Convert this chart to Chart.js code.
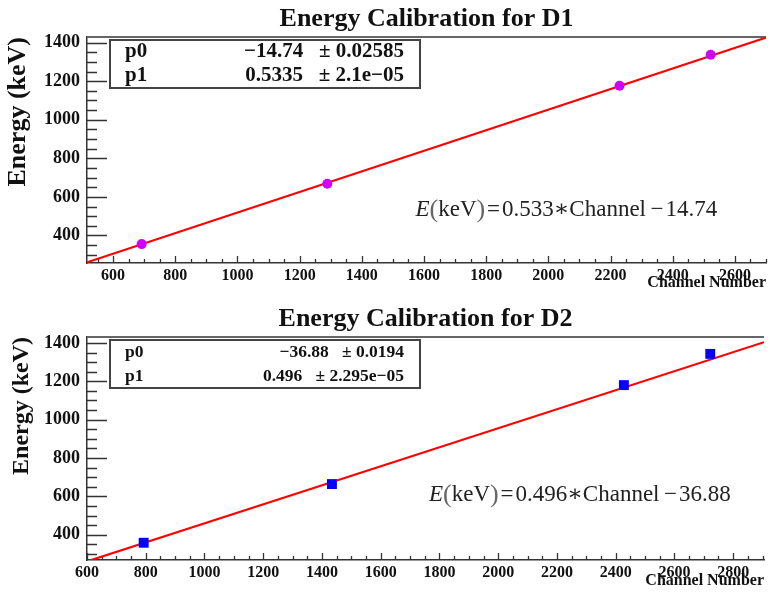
<!DOCTYPE html>
<html>
<head>
<meta charset="utf-8">
<script src="https://cdn.jsdelivr.net/npm/chart.js@4.4.1/dist/chart.umd.min.js"></script>
<style>
  html, body { margin: 0; padding: 0; background: #ffffff; }
  #wrap { position: relative; width: 771px; height: 593px; overflow: hidden; }
  canvas { position: absolute; left: 0; }
</style>
</head>
<body>
<div id="wrap">
  <canvas id="c1" width="771" height="296" style="top:0px"></canvas>
  <canvas id="c2" width="771" height="297" style="top:296px"></canvas>
</div>
<script>
// ---- Detector D1: calibration peaks (channel, energy in keV) ----
const channelsD1 = [692, 1289, 2229, 2522];
const energiesD1 = [355, 668, 1176, 1337];
const fitD1 = { p0: -14.74, p1: 0.5335 };
const statsD1 = [['p0', '\u221214.74', '0.02585'], ['p1', '0.5335', '2.1e\u221205']];
const eqD1 = ['0.533', '14.74'];
const xRangeD1 = [516, 2700];
const yRangeD1 = [257, 1429];
const xTicksD1 = [600, 800, 1000, 1200, 1400, 1600, 1800, 2000, 2200, 2400, 2600];

// ---- Detector D2 ----
const channelsD2 = [793, 1434, 2428, 2722];
const energiesD2 = [358, 664, 1180, 1343];
const fitD2 = { p0: -36.88, p1: 0.496 };
const statsD2 = [['p0', '\u221236.88', '0.0194'], ['p1', '0.496', '2.295e\u221205']];
const eqD2 = ['0.496', '36.88'];
const xRangeD2 = [600, 2905];
const yRangeD2 = [268, 1431];
const xTicksD2 = [600, 800, 1000, 1200, 1400, 1600, 1800, 2000, 2200, 2400, 2600, 2800];

// shared energy axis labels
const yTicks = [400, 600, 800, 1000, 1200, 1400];
const minorStep = 50;

const SERIF = "'Liberation Serif', 'Times New Roman', 'DejaVu Serif', serif";

function buildChart(canvasId, spec) {
  const frame = {
    id: 'frame_' + canvasId,
    beforeDatasetsDraw(chart) {
      const ctx = chart.ctx;
      const ca = chart.chartArea;
      const xs = chart.scales.x, ys = chart.scales.y;
      ctx.save();
      // top border of the frame
      ctx.strokeStyle = '#666';
      ctx.lineWidth = 2;
      ctx.beginPath();
      ctx.moveTo(ca.left, ca.top);
      ctx.lineTo(ca.right, ca.top);
      ctx.stroke();

      ctx.strokeStyle = '#333';
      ctx.lineWidth = 1.3;
      ctx.beginPath();
      // energy axis ticks pointing into the frame
      const yMajor = ys.ticks.map(t => t.value);
      for (let v = Math.ceil(ys.min / minorStep) * minorStep; v <= ys.max; v += minorStep) {
        const py = Math.round(ys.getPixelForValue(v)) + 0.5;
        const len = yMajor.includes(v) ? 20 : 10;
        ctx.moveTo(ca.left, py);
        ctx.lineTo(ca.left + len, py);
      }
      // channel axis ticks pointing up
      const xMajor = xs.ticks.map(t => t.value);
      for (let v = Math.ceil(xs.min / minorStep) * minorStep; v <= xs.max; v += minorStep) {
        const px = Math.round(xs.getPixelForValue(v)) + 0.5;
        const len = xMajor.includes(v) ? 7 : 4;
        ctx.moveTo(px, ca.bottom);
        ctx.lineTo(px, ca.bottom - len);
      }
      ctx.stroke();
      ctx.restore();
    },
    afterDatasetsDraw(chart) {
      const ctx = chart.ctx;
      const ca = chart.chartArea;
      ctx.save();
      // fit parameter box
      const bx = ca.left + 23, by = ca.top + 3, bw = 310, bh = 48;
      ctx.fillStyle = '#ffffff';
      ctx.fillRect(bx, by, bw, bh);
      ctx.strokeStyle = '#444';
      ctx.lineWidth = 2;
      ctx.strokeRect(bx, by, bw, bh);
      ctx.fillStyle = '#111';
      ctx.font = 'bold ' + spec.statsSize + 'px ' + SERIF;
      ctx.textBaseline = 'middle';
      spec.stats.forEach((row, i) => {
        const ry = by + 12 + i * 24;
        ctx.textAlign = 'left';
        ctx.fillText(row[0], bx + 15, ry);
        ctx.textAlign = 'right';
        ctx.fillText(row[1] + '   \u00b1 ' + row[2], bx + bw - 16, ry);
      });

      // calibration formula
      const fs = 23;
      const pieces = [
        { t: 'E', f: 'italic ' + fs + 'px ' + SERIF, c: '#222' },
        { t: '(', f: (fs + 3) + 'px ' + SERIF, c: '#666' },
        { t: 'keV', f: fs + 'px ' + SERIF, c: '#222' },
        { t: ')', f: (fs + 3) + 'px ' + SERIF, c: '#666' },
        { t: '\u200A=\u200A' + spec.eq[0] + '\u2217Channel\u2009\u2212\u200A' + spec.eq[1], f: fs + 'px ' + SERIF, c: '#222' }
      ];
      let total = 0;
      pieces.forEach(p => { ctx.font = p.f; p.w = ctx.measureText(p.t).width; total += p.w; });
      let px = ca.left + spec.eqPos[0] * (ca.right - ca.left) - total / 2;
      const py = ca.top + spec.eqPos[1] * (ca.bottom - ca.top);
      ctx.textAlign = 'left';
      ctx.textBaseline = 'middle';
      pieces.forEach(p => {
        ctx.font = p.f;
        ctx.fillStyle = p.c;
        ctx.fillText(p.t, px, py);
        px += p.w;
      });
      ctx.restore();
    }
  };

  const points = spec.channels.map((c, i) => ({ x: c, y: spec.energies[i] }));
  const fitLine = spec.xRange.map(x => ({ x: x, y: spec.fit.p0 + spec.fit.p1 * x }));

  return new Chart(document.getElementById(canvasId), {
    type: 'scatter',
    data: {
      datasets: [
        {
          label: 'peaks',
          data: points,
          pointStyle: spec.marker.style,
          pointRadius: spec.marker.radius,
          backgroundColor: spec.marker.color,
          borderColor: spec.marker.color,
          borderWidth: 0,
          showLine: false
        },
        {
          label: 'fit',
          type: 'line',
          data: fitLine,
          borderColor: '#ff0000',
          borderWidth: 2.2,
          pointRadius: 0,
          fill: false,
          tension: 0
        }
      ]
    },
    options: {
      responsive: false,
      animation: false,
      events: [],
      layout: { padding: { left: 0, right: 1, top: 0, bottom: 0 } },
      plugins: {
        legend: { display: false },
        tooltip: { enabled: false },
        title: {
          display: true,
          text: spec.title,
          fullSize: false,
          color: '#111',
          font: { family: SERIF, weight: 'bold', size: 26, lineHeight: 1.2 },
          padding: spec.titlePad
        }
      },
      scales: {
        x: {
          type: 'linear',
          position: 'bottom',
          min: spec.xRange[0],
          max: spec.xRange[1],
          grid: { display: false, drawTicks: false },
          border: { display: true, color: '#333', width: 1.5 },
          afterBuildTicks: s => { s.ticks = spec.xTicks.map(v => ({ value: v })); },
          ticks: {
            autoSkip: false,
            maxRotation: 0,
            padding: 3,
            color: '#111',
            font: { family: SERIF, weight: 'bold', size: 16 },
            callback: v => String(v)
          },
          title: {
            display: true,
            text: 'Channel Number',
            align: 'end',
            color: '#111',
            font: { family: SERIF, weight: 'bold', size: 16, lineHeight: 1.2 },
            padding: { top: 0, bottom: spec.xTitlePad }
          },
          afterFit: s => { s.height = spec.xAxisHeight; }
        },
        y: {
          type: 'linear',
          position: 'left',
          min: spec.yRange[0],
          max: spec.yRange[1],
          grid: { display: false, drawTicks: false },
          border: { display: true, color: '#333', width: 1.5 },
          afterBuildTicks: s => { s.ticks = yTicks.map(v => ({ value: v })); },
          ticks: {
            autoSkip: false,
            padding: 7,
            color: '#111',
            font: { family: SERIF, weight: 'bold', size: 18 },
            callback: v => String(v)
          },
          title: {
            display: true,
            text: 'Energy (keV)',
            align: 'end',
            color: '#111',
            font: { family: SERIF, weight: 'bold', size: spec.yTitleSize, lineHeight: 1.2 },
            padding: { top: spec.yTitlePad, bottom: 0 }
          },
          afterFit: s => { s.width = 87; }
        }
      }
    },
    plugins: [frame]
  });
}

buildChart('c1', {
  title: 'Energy Calibration for D1',
  channels: channelsD1, energies: energiesD1, fit: fitD1,
  stats: statsD1, eq: eqD1, xRange: xRangeD1, yRange: yRangeD1, xTicks: xTicksD1,
  marker: { style: 'circle', radius: 5, color: '#d000ff' },
  titlePad: { top: 3.4, bottom: 2.4 },
  xAxisHeight: 33, xTitlePad: 3.4,
  yTitleSize: 26, yTitlePad: 2.4,
  statsSize: 21,
  eqPos: [0.706, 0.765]
});

buildChart('c2', {
  title: 'Energy Calibration for D2',
  channels: channelsD2, energies: energiesD2, fit: fitD2,
  stats: statsD2, eq: eqD2, xRange: xRangeD2, yRange: yRangeD2, xTicks: xTicksD2,
  marker: { style: 'rect', radius: 7, color: '#0000ff' },
  titlePad: { top: 7.4, bottom: 2.4 },
  xAxisHeight: 33, xTitlePad: 2.4,
  yTitleSize: 24, yTitlePad: 7.6,
  statsSize: 17.5,
  eqPos: [0.728, 0.709]
});
</script>
</body>
</html>
